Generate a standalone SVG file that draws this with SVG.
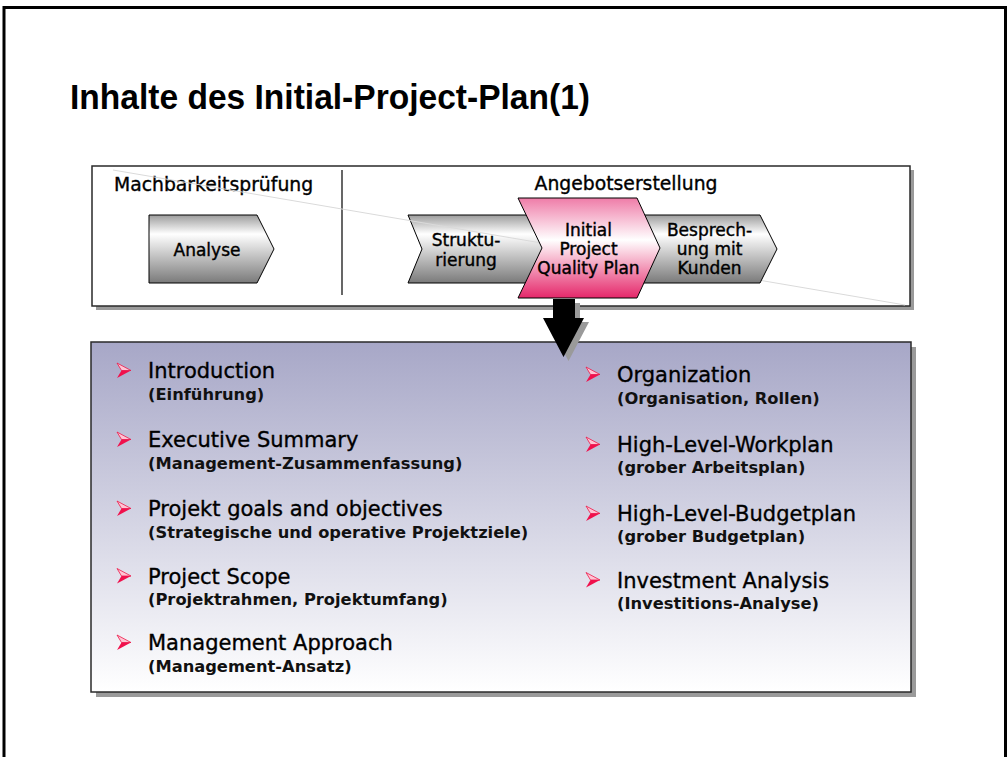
<svg xmlns="http://www.w3.org/2000/svg" width="1007" height="757" viewBox="0 0 1007 757">
<style>
.title{font-family:"Liberation Sans",Arial,sans-serif;font-weight:bold;font-size:35px;fill:#000}
.lbl{font-family:"DejaVu Sans",Verdana,sans-serif;font-size:17px;fill:#000;stroke:#000;stroke-width:0.4;text-anchor:middle}
.phase{font-family:"DejaVu Sans",Verdana,sans-serif;font-size:18.8px;fill:#000;stroke:#000;stroke-width:0.35}
.main{font-family:"DejaVu Sans",Verdana,sans-serif;font-size:21px;fill:#000;stroke:#000;stroke-width:0.35}
.sub{font-family:"DejaVu Sans",Verdana,sans-serif;font-weight:bold;font-size:16.3px;fill:#111}
.box{stroke:#2a2a2a;stroke-width:1.5}
.shadow{fill:#9a9a9a}
.chev{stroke:#000;stroke-width:1}
</style>
<defs>
<linearGradient id="gGray" x1="0" y1="0" x2="0" y2="1">
<stop offset="0" stop-color="#9c9c9c"/>
<stop offset="0.28" stop-color="#ffffff"/>
<stop offset="1" stop-color="#7a7a7a"/>
</linearGradient>
<linearGradient id="gPink" x1="0" y1="0" x2="0" y2="1">
<stop offset="0" stop-color="#ef7ca8"/>
<stop offset="0.42" stop-color="#ffffff"/>
<stop offset="1" stop-color="#e5276a"/>
</linearGradient>
<linearGradient id="gPanel" x1="0" y1="0" x2="0" y2="1">
<stop offset="0" stop-color="#a7a7c7"/>
<stop offset="1" stop-color="#ffffff"/>
</linearGradient>
<g id="bullet">
<polygon points="0,0 14,7.5 4.5,7.5" fill="#ffc4d4" stroke="#ee1848" stroke-width="0.8"/>
<polygon points="4.5,7.5 14,7.5 0,15" fill="#f0104c"/>
</g>
</defs>

<g id="frame" fill="none" stroke="#000" stroke-width="3">
<polyline points="4,757 4,7.5 1005.5,7.5 1005.5,757"/>
</g>

<text class="title" x="70" y="108.5" textLength="520" lengthAdjust="spacingAndGlyphs">Inhalte des Initial-Project-Plan(1)</text>

<g id="process-box">
<rect class="shadow" x="96" y="170" width="818" height="140"/>
<rect class="box" x="92" y="166" width="818" height="140" fill="#fff"/>
<line x1="342" y1="170" x2="342" y2="295" stroke="#000" stroke-width="1.2"/>
<text class="phase" x="114" y="191">Machbarkeitsprüfung</text>
<text class="phase" x="626" y="190" text-anchor="middle">Angebotserstellung</text>
</g>

<g id="analyse">
<polygon class="chev" points="149,215 257,215 274,249 257,283 149,283" fill="url(#gGray)"/>
<text class="lbl" x="207" y="255.5">Analyse</text>
</g>

<g id="strukturierung">
<polygon class="chev" points="408,215 530,215 548,249 530,283 408,283 422,249" fill="url(#gGray)"/>
<text class="lbl" x="466" y="246">Struktu-</text>
<text class="lbl" x="466" y="266">rierung</text>
</g>

<g id="connectors">
<line x1="113" y1="170" x2="905" y2="305" stroke="#dadada" stroke-width="1"/>
</g>

<g id="besprechung">
<polygon class="chev" points="620,215 760,215 777,249 760,283 620,283 637,249" fill="url(#gGray)"/>
<text class="lbl" x="709.5" y="236">Besprech-</text>
<text class="lbl" x="709.5" y="255">ung mit</text>
<text class="lbl" x="709.5" y="274">Kunden</text>
</g>

<g id="initial-plan">
<polygon class="chev" points="518,198 637,198 660,248 637,298 518,298 542,248" fill="url(#gPink)"/>
<text class="lbl" x="588.5" y="236">Initial</text>
<text class="lbl" x="588.5" y="255">Project</text>
<text class="lbl" x="588.5" y="274">Quality Plan</text>
</g>

<g id="content-panel">
<rect class="shadow" x="96" y="347" width="820" height="350"/>
<rect class="box" x="91" y="342" width="820" height="350" fill="url(#gPanel)"/>
</g>

<g id="down-arrow">
<polygon points="558,303 580,303 580,322 589,322 568.5,361 548,322 558,322" fill="#9a9a9a"/>
<polygon points="553,299 575,299 575,318 584,318 563.5,357 543,318 553,318" fill="#000"/>
</g>

<g id="left-list">
<use href="#bullet" x="117" y="363"/>
<text class="main" x="148" y="378">Introduction</text>
<text class="sub" x="148" y="400">(Einführung)</text>
<use href="#bullet" x="117" y="432"/>
<text class="main" x="148" y="447">Executive Summary</text>
<text class="sub" x="148" y="468.5">(Management-Zusammenfassung)</text>
<use href="#bullet" x="117" y="501"/>
<text class="main" x="148" y="516">Projekt goals and objectives</text>
<text class="sub" x="148" y="538">(Strategische und operative Projektziele)</text>
<use href="#bullet" x="117" y="568.5"/>
<text class="main" x="148" y="583.5">Project Scope</text>
<text class="sub" x="148" y="605">(Projektrahmen, Projektumfang)</text>
<use href="#bullet" x="117" y="635"/>
<text class="main" x="148" y="650">Management Approach</text>
<text class="sub" x="148" y="671.5">(Management-Ansatz)</text>
</g>

<g id="right-list">
<use href="#bullet" x="586" y="367"/>
<text class="main" x="617" y="382">Organization</text>
<text class="sub" x="617" y="403.5">(Organisation, Rollen)</text>
<use href="#bullet" x="586" y="437"/>
<text class="main" x="617" y="452">High-Level-Workplan</text>
<text class="sub" x="617" y="473">(grober Arbeitsplan)</text>
<use href="#bullet" x="586" y="506"/>
<text class="main" x="617" y="521">High-Level-Budgetplan</text>
<text class="sub" x="617" y="542">(grober Budgetplan)</text>
<use href="#bullet" x="586" y="572.5"/>
<text class="main" x="617" y="587.5">Investment Analysis</text>
<text class="sub" x="617" y="609">(Investitions-Analyse)</text>
</g>
</svg>
